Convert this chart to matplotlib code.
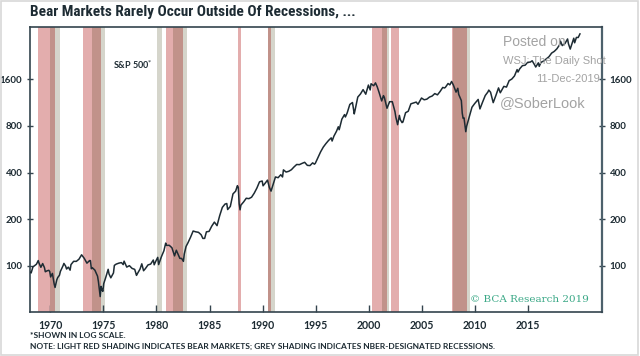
import matplotlib
matplotlib.use("Agg")
import matplotlib.pyplot as plt
from matplotlib import font_manager
from matplotlib.ticker import FixedLocator, NullLocator, FixedFormatter
from matplotlib.patches import Rectangle

# ---------------- data ----------------
spx_months = [
    "1968-01","1968-03","1968-05","1968-06","1968-09","1968-11","1968-12",
    "1969-02","1969-04","1969-06","1969-07","1969-09","1969-11","1969-12",
    "1970-01","1970-03","1970-05","1970-06","1970-08","1970-09","1970-11","1970-12",
    "1971-03","1971-04","1971-06","1971-07","1971-09","1971-11","1971-12",
    "1972-03","1972-06","1972-09","1972-12",
    "1973-01","1973-03","1973-06","1973-09","1973-10","1973-11","1973-12",
    "1974-03","1974-06","1974-07","1974-09","1974-10","1974-11","1974-12",
    "1975-01","1975-03","1975-06","1975-07","1975-09","1975-12",
    "1976-01","1976-03","1976-06","1976-09","1976-11","1976-12",
    "1977-03","1977-06","1977-09","1977-12",
    "1978-02","1978-03","1978-06","1978-08","1978-10","1978-12",
    "1979-03","1979-06","1979-09","1979-10","1979-12",
    "1980-02","1980-03","1980-06","1980-09","1980-11","1980-12",
    "1981-03","1981-06","1981-09","1981-11","1981-12",
    "1982-03","1982-05","1982-07","1982-08","1982-10","1982-12",
    "1983-03","1983-06","1983-09","1983-12",
    "1984-03","1984-05","1984-07","1984-09","1984-12",
    "1985-03","1985-06","1985-09","1985-12",
    "1986-03","1986-06","1986-08","1986-09","1986-12",
    "1987-03","1987-06","1987-08","1987-09","1987-10","1987-11","1987-12",
    "1988-03","1988-06","1988-09","1988-12",
    "1989-03","1989-06","1989-09","1989-12",
    "1990-01","1990-03","1990-06","1990-08","1990-10","1990-12",
    "1991-03","1991-06","1991-09","1991-11","1991-12",
    "1992-03","1992-06","1992-09","1992-12",
    "1993-03","1993-06","1993-09","1993-12",
    "1994-03","1994-06","1994-09","1994-11","1994-12",
    "1995-03","1995-06","1995-09","1995-12",
    "1996-03","1996-06","1996-07","1996-09","1996-12",
    "1997-02","1997-03","1997-06","1997-09","1997-10","1997-12",
    "1998-03","1998-06","1998-08","1998-09","1998-12",
    "1999-03","1999-06","1999-09","1999-12",
    "2000-02","2000-03","2000-06","2000-08","2000-10","2000-12",
    "2001-03","2001-05","2001-06","2001-09","2001-12",
    "2002-03","2002-06","2002-07","2002-09","2002-11","2002-12",
    "2003-02","2003-03","2003-06","2003-09","2003-12",
    "2004-03","2004-06","2004-08","2004-12",
    "2005-03","2005-06","2005-09","2005-12",
    "2006-03","2006-06","2006-09","2006-12",
    "2007-02","2007-03","2007-06","2007-08","2007-10","2007-12",
    "2008-03","2008-05","2008-06","2008-09","2008-10","2008-11","2008-12",
    "2009-02","2009-03","2009-06","2009-09","2009-12",
    "2010-03","2010-04","2010-06","2010-09","2010-12",
    "2011-03","2011-04","2011-06","2011-09","2011-12",
    "2012-03","2012-05","2012-09","2012-12",
    "2013-03","2013-06","2013-09","2013-12",
    "2014-01","2014-03","2014-06","2014-09","2014-12",
    "2015-03","2015-05","2015-08","2015-09","2015-12",
    "2016-01","2016-03","2016-06","2016-09","2016-12",
    "2017-03","2017-06","2017-09","2017-12",
    "2018-01","2018-03","2018-06","2018-09","2018-10","2018-12",
    "2019-03","2019-04","2019-05","2019-07","2019-09","2019-11",
]
spx_values = [
    92.2, 90.2, 98.7, 99.6, 102.7, 108.4, 103.9,
    98.1, 103.7, 97.7, 91.8, 93.1, 93.8, 92.1,
    85.0, 89.6, 76.6, 72.7, 81.5, 84.2, 87.2, 92.2,
    100.3, 103.9, 99.7, 95.6, 98.3, 94.0, 102.1,
    107.2, 107.1, 110.6, 118.1,
    116.0, 112.0, 104.3, 108.4, 108.3, 96.0, 97.6,
    94.0, 86.0, 79.3, 63.5, 73.9, 70.0, 68.6,
    77.0, 83.4, 95.2, 88.8, 83.9, 90.2,
    100.9, 102.8, 104.3, 105.2, 102.1, 107.5,
    98.4, 100.5, 96.5, 95.1,
    87.0, 89.2, 95.5, 103.3, 93.2, 96.1,
    101.6, 102.9, 109.3, 101.8, 107.9,
    113.7, 102.1, 114.2, 125.5, 140.5, 135.8,
    136.0, 131.2, 116.2, 126.4, 122.6,
    112.0, 111.9, 107.1, 119.5, 133.7, 140.6,
    153.0, 168.1, 166.1, 164.9,
    159.2, 150.6, 150.7, 166.1, 167.2,
    180.7, 191.9, 182.1, 211.3,
    238.9, 250.8, 252.9, 231.3, 242.2,
    291.7, 304.0, 329.8, 321.8, 251.8, 230.3, 247.1,
    258.9, 273.5, 271.9, 277.7,
    294.9, 318.0, 349.2, 353.4,
    329.1, 339.9, 358.0, 322.6, 304.0, 330.2,
    375.2, 371.2, 387.9, 375.2, 417.1,
    403.7, 408.1, 417.8, 435.7,
    451.7, 450.5, 458.9, 466.5,
    445.8, 444.3, 462.7, 453.7, 459.3,
    500.7, 544.8, 584.4, 615.9,
    645.5, 670.6, 639.9, 687.3, 740.7,
    790.8, 757.1, 885.1, 947.3, 914.6, 970.4,
    1101.8, 1133.8, 957.3, 1017.0, 1229.2,
    1286.4, 1372.7, 1282.7, 1469.3,
    1366.4, 1498.6, 1454.6, 1517.7, 1429.4, 1320.3,
    1160.3, 1255.8, 1224.4, 1040.9, 1148.1,
    1147.4, 989.8, 911.6, 815.3, 936.3, 879.8,
    841.2, 848.2, 974.5, 996.0, 1111.9,
    1126.2, 1140.8, 1104.2, 1211.9,
    1180.6, 1191.3, 1228.8, 1248.3,
    1294.8, 1270.2, 1335.9, 1418.3,
    1406.8, 1420.9, 1503.4, 1474.0, 1549.4, 1468.4,
    1322.7, 1400.4, 1280.0, 1166.4, 968.8, 896.2, 903.3,
    735.1, 797.9, 919.3, 1057.1, 1115.1,
    1169.4, 1186.7, 1030.7, 1141.2, 1257.6,
    1325.8, 1363.6, 1320.6, 1131.4, 1257.6,
    1408.5, 1310.3, 1440.7, 1426.2,
    1569.2, 1606.3, 1681.6, 1848.4,
    1782.6, 1872.3, 1960.2, 1972.3, 2058.9,
    2067.9, 2107.4, 1972.2, 1920.0, 2043.9,
    1940.2, 2059.7, 2098.9, 2168.3, 2238.8,
    2362.7, 2423.4, 2519.4, 2673.6,
    2823.8, 2640.9, 2718.4, 2914.0, 2711.7, 2506.9,
    2834.4, 2945.8, 2752.1, 2980.4, 2976.7, 3141.0,
]

# bear markets (light red) and NBER recessions (grey), decimal years
bear_start = [1968.9, 1973.05, 1980.9, 1987.65, 1990.5, 2000.25, 2002.1, 2007.8]
bear_end   = [1970.45, 1974.8, 1982.55, 1987.95, 1990.8, 2001.67, 2002.83, 2009.2]
rec_start  = [1969.95, 1973.9, 1980.05, 1981.55, 1990.5, 2001.25, 2007.95]
rec_end    = [1970.9, 1975.2, 1980.5, 1982.85, 1991.15, 2001.9, 2009.5]

y_ticks = [100, 200, 400, 800, 1600]
x_ticks = [1970, 1975, 1980, 1985, 1990, 1995, 2000, 2005, 2010, 2015]

# ---------------- fonts ----------------
avail = {f.name for f in font_manager.fontManager.ttflist}
body_font = "Lato" if "Lato" in avail else "DejaVu Sans"
wm_font = "Liberation Sans" if "Liberation Sans" in avail else "DejaVu Sans"

def find_condensed_bold():
    prefs = ["Liberation Sans Narrow", "Roboto Condensed", "Open Sans Condensed",
             "Noto Sans", "DejaVu Sans", "Open Sans", "Inter"]
    cands = []
    for f in font_manager.fontManager.ttflist:
        st = str(f.stretch).lower()
        w = f.weight
        try:
            w = int(w)
        except Exception:
            w = 700 if "bold" in str(w).lower() else 400
        condensed = ("condensed" in st or "narrow" in f.name.lower()
                     or (st.isdigit() and int(st) < 100))
        if condensed and 600 <= w <= 800 and "italic" not in str(f.style).lower() \
                and "oblique" not in str(f.style).lower():
            cands.append(f)
    for p in prefs:
        for f in cands:
            if f.name == p and "semi" not in str(f.stretch).lower():
                return f.fname
    return cands[0].fname if cands else None

cond_path = find_condensed_bold()
if cond_path:
    title_fp = font_manager.FontProperties(fname=cond_path, size=11)
else:
    title_fp = font_manager.FontProperties(family="DejaVu Sans", weight="bold", size=8)

ink = "#1d2b33"
spine_c = "#34444e"

def to_dec(s):
    y, m = s.split("-")
    return int(y) + (int(m) - 0.5) / 12.0

x = [to_dec(s) for s in spx_months]

fig = plt.figure(figsize=(6.4, 3.56), dpi=100)
fig.patch.set_facecolor("white")
ax = fig.add_axes([30 / 640, 1 - 312 / 356, 572 / 640, 285 / 356])

red_c = "#e3adad"
grey_c = "#d5d5cb"
dark_c = "#c1928a"

for s, e in zip(bear_start, bear_end):
    ax.axvspan(s, e, color=red_c, lw=0, zorder=1)
for s, e in zip(rec_start, rec_end):
    ax.axvspan(s, e, color=grey_c, lw=0, zorder=1)
for bs, be in zip(bear_start, bear_end):
    for rs, re_ in zip(rec_start, rec_end):
        lo, hi = max(bs, rs), min(be, re_)
        if hi > lo:
            ax.axvspan(lo, hi, color=dark_c, lw=0, zorder=2)

ax.plot(x, spx_values, color=ink, lw=1.1, zorder=3)

ax.set_yscale("log")
ax.set_xlim(1968.1, 2021.95)
ax.set_ylim(50.5, 3480)

ax.yaxis.set_major_locator(FixedLocator(y_ticks))
ax.yaxis.set_major_formatter(FixedFormatter([str(v) for v in y_ticks]))
ax.yaxis.set_minor_locator(NullLocator())
ax.xaxis.set_major_locator(FixedLocator(x_ticks))
ax.xaxis.set_major_formatter(FixedFormatter([str(v) for v in x_ticks]))

ax.tick_params(axis="x", direction="in", length=5, width=1, color=spine_c,
               labelsize=7.6, labelcolor=ink, pad=6)
ax.tick_params(axis="y", which="both", direction="inout", length=5, width=1,
               color=spine_c, labelsize=7, labelcolor=ink, right=True,
               labelright=True, pad=3)
for lab in ax.get_xticklabels() + ax.get_yticklabels():
    lab.set_fontfamily(body_font)
    lab.set_fontweight("bold")

for side in ["left", "bottom", "right", "top"]:
    ax.spines[side].set_color(spine_c)
    ax.spines[side].set_linewidth(1.2)
ax.spines["right"].set_color("#4d616c")
ax.spines["right"].set_linewidth(1.6)

# ---------------- texts ----------------
fig.text(30 / 640, 1 - 12 / 356, "Bear Markets Rarely Occur Outside Of Recessions, ...",
         fontproperties=title_fp, color=ink, ha="left", va="center")

ax.text(1975.9, 1980, "S&P 500$^{*}$", fontsize=6.5, fontweight="bold", color=ink,
        family=body_font, ha="left", va="center", zorder=4)

fig.text(30 / 640, 1 - 335 / 356, "*SHOWN IN LOG SCALE.", fontsize=6.0,
         fontweight="bold", color=ink, family=body_font, ha="left", va="center")
fig.text(30 / 640, 1 - 346 / 356,
         "NOTE: LIGHT RED SHADING INDICATES BEAR MARKETS; GREY SHADING INDICATES NBER-DESIGNATED RECESSIONS.",
         fontsize=6.0, fontweight="bold", color=ink, family=body_font, ha="left", va="center")

fig.text(589 / 640, 1 - 300 / 356, "© BCA Research 2019", fontsize=7.5, color="#3aa886",
         family="DejaVu Serif", ha="right", va="center")

wm = "#a3a3a3"
fig.text(503 / 640, 1 - 42 / 356, "Posted on", fontsize=10, color=wm, family=wm_font,
         ha="left", va="center")
fig.text(503 / 640, 1 - 61 / 356, "WSJ: The Daily Shot", fontsize=8, color=wm,
         family=wm_font, ha="left", va="center")
fig.text(600 / 640, 1 - 79 / 356, "11-Dec-2019", fontsize=8, color=wm, family=wm_font,
         ha="right", va="center")
fig.text(500 / 640, 1 - 103 / 356, "@SoberLook", fontsize=10.5, color=wm, family=wm_font,
         ha="left", va="center")

fig.add_artist(Rectangle((0.002, 0.003), 0.995, 0.994, transform=fig.transFigure,
                         fill=False, edgecolor="#d8d8d8", lw=1.2))

fig.savefig("out.png", dpi=100, facecolor="white")
